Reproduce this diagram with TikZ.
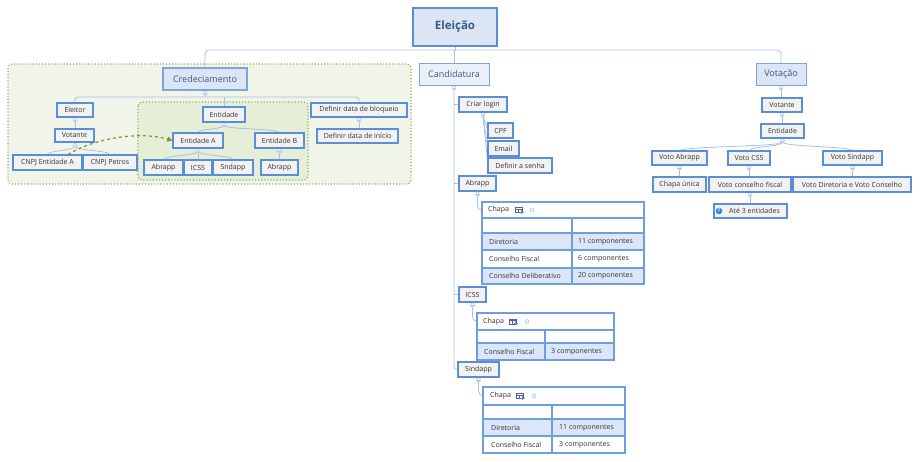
\documentclass[tikz,border=0pt]{standalone}
\usepackage{fontspec}
\setmainfont{Open Sans}
\usetikzlibrary{arrows.meta}
\definecolor{bblue}{HTML}{5B8ED6}
\definecolor{bgray}{HTML}{F2F2F2}
\definecolor{tgray}{HTML}{333333}
\definecolor{lblue}{HTML}{DBE5F3}
\definecolor{lblue2}{HTML}{EAF0F8}
\definecolor{cline}{HTML}{A3C2E8}
\definecolor{gfill}{HTML}{F1F5E9}
\definecolor{gfill2}{HTML}{E5EED6}
\definecolor{gborder}{HTML}{8FAA55}
\definecolor{garrow}{HTML}{77963A}
\definecolor{titletext}{HTML}{3A5A88}
\definecolor{rowblue}{HTML}{DCE6FA}
\definecolor{tblue}{HTML}{6F9EE0}
\definecolor{qblue}{HTML}{2E86D9}
\newcommand\fs{\fontsize{7}{8}\selectfont}
\newcommand\fm{\fontsize{9}{10.5}\selectfont}
\newcommand\rb[7]{\node[#1, minimum width={(#5)-(#3)}, minimum height={(#6)-(#4)}] (#2) at ({((#3)+(#5))/2},{((#4)+(#6))/2}) {#7};}
\newcommand\mk[2]{\draw[cline, fill=white, line width=0.5pt] (#1,#2) circle (2);\draw[cline, line width=0.5pt] ({#1-1.1},#2) -- ({#1+1.1},#2);}
\newcommand\tabicon[2]{%
  \draw[gray!70!blue, line width=0.4pt] (#1,{#2-2.5}) rectangle ({#1+7},{#2+2.5});
  \draw[gray!70!blue, line width=0.4pt] (#1,{#2-1}) -- ({#1+7},{#2-1}) ({#1+3},{#2-1}) -- ({#1+3},{#2+2.5});
  \draw[bblue, line width=0.6pt] ({#1+4.5},{#2+1.8}) -- ({#1+8.5},{#2+1.8}) ({#1+6.5},{#2-0.2}) -- ({#1+6.5},{#2+3.8});}
\begin{document}
\begin{tikzpicture}[x=1pt,y=-1pt,
  bx/.style={draw=bblue, line width=1.1pt, fill=bgray, text=tgray, font=\fs, inner sep=0pt},
  topbx/.style={draw=bblue!80, line width=0.9pt, fill=lblue, text=titletext, font=\fm, inner sep=0pt},
  conn/.style={draw=cline, line width=0.8pt},
  tab/.style={draw=tblue, line width=1.1pt, inner sep=0pt},
  ttxt/.style={anchor=west, text=tgray, font=\fs, inner sep=0pt},
  grp/.style={draw=gborder, dotted, line width=1.1pt, rounded corners=4},
  ]
\useasboundingbox (0,0) rectangle (920,461);

% green groups
\path[grp, fill=gfill] (8,64) rectangle (411,184);
\path[grp, fill=gfill2] (138,102) rectangle (308,180);

% connectors
\draw[conn, rounded corners=4] (205,68) |- (455,50) -| (781,63);
\draw[conn] (455,46) -- (455,50);
\draw[conn] (454,50) -- (454,63);
\draw[conn] (205,90) -- (205,97);
\draw[conn, rounded corners=3] (75,103) |- (359,97) -- (359,103);
\draw[conn] (224,97) -- (224,107);
\draw[conn] (75,117) -- (75,129);
\draw[conn] (75,142) -- (75,146);
\draw[conn] (75,146) .. controls (75,151) and (47.5,150) .. (47.5,155);
\draw[conn] (75,146) .. controls (75,151) and (110,150) .. (110,155);
\draw[conn] (224,122) -- (224,125);
\draw[conn] (224,125) .. controls (224,130) and (198,128) .. (198,133);
\draw[conn] (224,125) .. controls (224,130) and (279.5,128) .. (279.5,133);
\draw[conn] (198,148) -- (198,151);
\draw[conn] (198,151) .. controls (198,156) and (163.5,155) .. (163.5,160);
\draw[conn] (198,151) -- (198,160);
\draw[conn] (198,151) .. controls (198,156) and (233,155) .. (233,160);
\draw[conn] (279.5,148) -- (279.5,160);
\draw[conn] (359,117) -- (359,129);

\draw[conn, rounded corners=3] (454,85) |- (458,369.5);
\draw[conn] (454,104.5) -- (459,104.5);
\draw[conn] (454,183.5) -- (459,183.5);
\draw[conn] (454,294.5) -- (459,294.5);
\draw[conn] (483,112) -- (483,116);
\draw[conn] (483,116) -- (488,130.5);
\draw[conn] (483,116) -- (488,148.5);
\draw[conn] (483,116) -- (488,165.5);

\draw[conn] (781,85) -- (781,98);
\draw[conn] (782,112) -- (782,124);
\draw[conn] (782.5,138) -- (782.5,142);
\draw[conn] (782.5,142) .. controls (782.5,147) and (679.5,146) .. (679.5,151);
\draw[conn] (782.5,142) .. controls (782.5,147) and (749,146) .. (749,151);
\draw[conn] (782.5,142) .. controls (782.5,147) and (852.5,146) .. (852.5,151);
\draw[conn] (679.5,165) -- (679.5,177);
\draw[conn] (749,165) -- (749,177);
\draw[conn] (852.5,165) -- (852.5,177);
\draw[conn] (750,192) -- (750,204);

% nodes
\rb{draw=bblue, line width=2.6pt, fill=lblue, text=titletext, font=\fontsize{11.5}{13}\selectfont\bfseries, inner sep=0pt}{ele}{413}{8}{497}{46}{Eleição}
\rb{topbx, line width=1.1pt}{cred}{163}{68}{247}{90}{Credeciamento}
\rb{topbx, fill=lblue2}{cand}{419}{63}{489}{85}{Candidatura}
\rb{topbx}{vot}{756}{63}{806}{85}{Votação}

\rb{bx}{eleitor}{57}{103}{93}{117}{Eleitor}
\rb{bx}{entid}{203}{107}{245}{122}{Entidade}
\rb{bx}{defb}{311}{103}{407}{117}{Definir data de bloqueio}
\rb{bx}{votL}{55}{129}{94}{142}{Votante}
\rb{bx}{cnpjA}{13}{155}{82}{170}{CNPJ Entidade A}
\rb{bx}{cnpjP}{83}{155}{137}{170}{CNPJ Petros}
\rb{bx}{entA}{173}{133}{223}{148}{Entidade A}
\rb{bx}{entB}{255}{133}{304}{148}{Entidade B}
\rb{bx}{abr1}{144}{160}{183}{175}{Abrapp}
\rb{bx}{icss1}{184}{160}{212}{175}{ICSS}
\rb{bx}{snd1}{213}{160}{253}{175}{Sndapp}
\rb{bx}{abr2}{261}{160}{298}{175}{Abrapp}
\rb{bx}{defi}{317}{129}{398}{143}{Definir data de início}

\rb{bx}{crl}{459}{97}{507}{112}{Criar login}
\rb{bx}{cpf}{488}{123}{513}{138}{CPF}
\rb{bx}{email}{488}{141}{519}{156}{Email}
\rb{bx}{senha}{488}{158}{552}{173}{Definir a senha}
\rb{bx}{abrC}{459}{176}{496}{191}{Abrapp}
\rb{bx}{icssC}{459}{287}{486}{302}{ICSS}
\rb{bx}{sindC}{458}{362}{499}{377}{Sindapp}

\rb{bx}{votR}{762}{98}{802}{112}{Votante}
\rb{bx}{entR}{761}{124}{804}{138}{Entidade}
\rb{bx}{vab}{652}{151}{707}{165}{Voto Abrapp}
\rb{bx}{vcss}{728}{151}{770}{165}{Voto CSS}
\rb{bx}{vsnd}{823}{151}{882}{165}{Voto Sindapp}
\rb{bx}{chu}{653}{177}{706}{192}{Chapa única}
\rb{bx}{vcf}{709}{177}{791}{192}{Voto conselho fiscal}
\rb{bx}{vdc}{793}{177}{911}{192}{Voto Diretoria e Voto Conselho}
\rb{bx}{ate}{714}{204}{787}{218}{\hspace*{8pt}Até 3 entidades}

% table connectors
\coordinate (t1c) at (482,210);
\coordinate (t2c) at (477,321.5);
\coordinate (t3c) at (483,396);
\draw[conn, rounded corners=4] (abrC.south) |- (t1c);
\draw[conn, rounded corners=5] (icssC.south) |- (t2c);
\draw[conn, rounded corners=5] (sindC.south) |- (t3c);

% table 1
\node[tab, fill=white, minimum width=162, minimum height=82] (tab1) at (563,243) {};
\fill[rowblue] (482,233) rectangle (644,250) (482,268) rectangle (644,284);
\draw[tblue, line width=1.1pt] (482,218) -- (644,218) (482,233) -- (644,233) (482,250) -- (644,250) (482,268) -- (644,268) (572,218) -- (572,284);
\draw[tblue, line width=1.1pt] (482,202) rectangle (644,284);
\node[ttxt] (t1a) at (488,210) {Chapa};
\tabicon{515}{210}
\draw[cline, line width=0.5pt] (532,210) circle (2) (531,210) -- (533,210);
\node[ttxt] (t1b) at (489,241.5) {Diretoria};
\node[ttxt] (t1c1) at (578,241.5) {11 componentes};
\node[ttxt] (t1d) at (489,259) {Conselho Fiscal};
\node[ttxt] (t1d1) at (578,259) {6 componentes};
\node[ttxt] (t1e) at (489,276) {Conselho Deliberativo};
\node[ttxt] (t1e1) at (578,276) {20 componentes};

% table 2
\node[tab, fill=white, minimum width=137, minimum height=47] (tab2) at (545.5,336.5) {};
\fill[rowblue] (477,343) rectangle (614,360);
\draw[tblue, line width=1.1pt] (477,330) -- (614,330) (477,343) -- (614,343) (545,330) -- (545,360);
\draw[tblue, line width=1.1pt] (477,313) rectangle (614,360);
\node[ttxt] (t2a) at (483,321.5) {Chapa};
\tabicon{509}{321.5}
\draw[cline, line width=0.5pt] (527,321.5) circle (2) (526,321.5) -- (528,321.5);
\node[ttxt] (t2b) at (484,351.5) {Conselho Fiscal};
\node[ttxt] (t2b1) at (551,351.5) {3 componentes};

% table 3
\node[tab, fill=white, minimum width=142, minimum height=66] (tab3) at (554,420) {};
\fill[rowblue] (483,419) rectangle (625,436);
\draw[tblue, line width=1.1pt] (483,405) -- (625,405) (483,419) -- (625,419) (483,436) -- (625,436) (552,405) -- (552,453);
\draw[tblue, line width=1.1pt] (483,387) rectangle (625,453);
\node[ttxt] (t3a) at (490,396) {Chapa};
\tabicon{516}{396}
\draw[cline, line width=0.5pt] (534,396) circle (2) (533,396) -- (535,396);
\node[ttxt] (t3b) at (491,427.5) {Diretoria};
\node[ttxt] (t3b1) at (559,427.5) {11 componentes};
\node[ttxt] (t3c1) at (491,444.5) {Conselho Fiscal};
\node[ttxt] (t3c2) at (559,444.5) {3 componentes};

% dashed relation arrow
\draw[garrow, dashed, line width=1.2pt, -{Triangle[length=5pt,width=5pt]}] (cnpjA.north -| 68,0) .. controls (95,138) and (140,131) .. (entA.west);

% question icon
\node[circle, fill=qblue, inner sep=0pt, minimum size=6.5pt, text=white, font=\fontsize{5}{5}\selectfont\bfseries] (qic) at (719,211) {?};

% collapse markers
\mk{205}{93}\mk{75}{120}\mk{75}{145.5}\mk{224}{125}\mk{198}{151}\mk{279.5}{151}\mk{359}{120}
\mk{454}{88}\mk{483}{115}\mk{477.5}{194}\mk{472.5}{305}\mk{478.5}{380}
\mk{781}{88}\mk{782}{115}\mk{782.5}{141}\mk{679.5}{168}\mk{749}{168}\mk{852.5}{168}\mk{750}{195}
\end{tikzpicture}
\end{document}
